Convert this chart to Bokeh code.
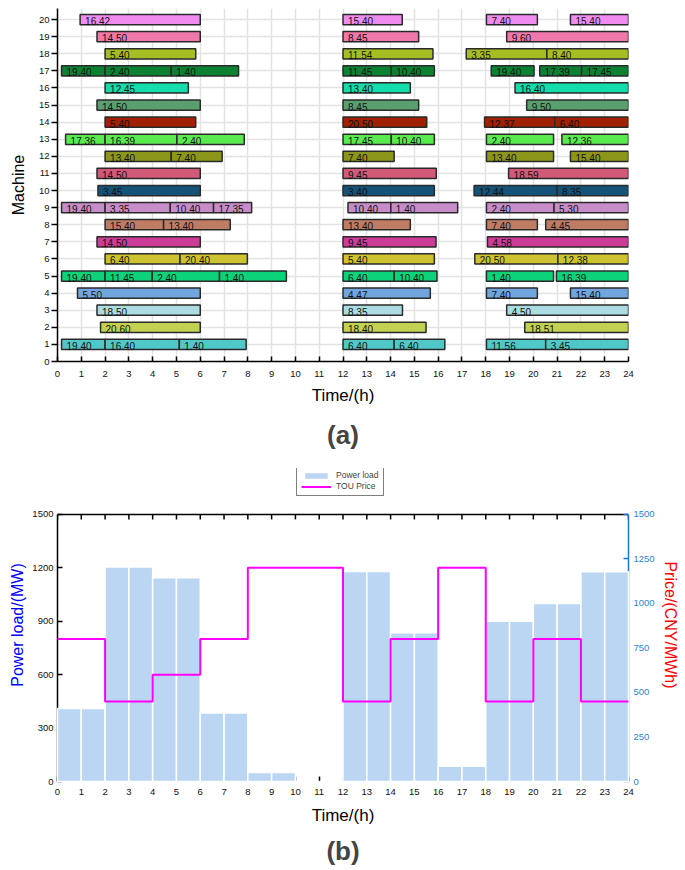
from bokeh.plotting import figure
from bokeh.models import (ColumnDataSource, Range1d, LinearAxis, FixedTicker, Title,
                          Legend, LegendItem)
from bokeh.layouts import column
from bokeh.embed import file_html
from bokeh.resources import INLINE
from bokeh.core.properties import value

FONT = "Liberation Sans"

# ---------------- (a) Gantt data ----------------
machine_ids = list(range(1, 21))
machine_colors = ["#50C8C8", "#C3D150", "#AADCE2", "#70A5DE", "#0CD27A",
                  "#CDC230", "#CC3C98", "#BE7C64", "#C88CC8", "#155278",
                  "#D25A78", "#8C961A", "#5AEA50", "#A02000", "#5AA06E",
                  "#14DCAA", "#0A8232", "#A6BE23", "#F078AA", "#F08CF0"]

seg_machine = [1]*7 + [2]*3 + [3]*3 + [4]*4 + [5]*8 + [6]*5 + [7]*3 + [8]*5 + [9]*8 + [10]*4 \
    + [11]*3 + [12]*5 + [13]*7 + [14]*4 + [15]*3 + [16]*3 + [17]*8 + [18]*4 + [19]*3 + [20]*4
seg_start = [0.17, 2, 5.12, 12, 14.15, 18.03, 20.52,
             1.81, 12, 19.64,
             1.66, 12, 18.88,
             0.84, 12, 18.03, 21.56,
             0.17, 2, 3.98, 6.81, 12, 14.15, 18.03, 20.97,
             2, 5.15, 12, 17.54, 21.03,
             1.66, 12, 18.07,
             2, 4.46, 12, 18.03, 20.52,
             0.17, 2, 4.74, 6.56, 12.21, 14.01, 18.03, 20.87,
             1.7, 12, 17.51, 20.99,
             1.66, 12, 18.96,
             2, 4.78, 12, 18.03, 21.56,
             0.34, 2, 5.02, 12, 14.03, 18.03, 21.2,
             2, 12, 17.95, 20.9,
             1.66, 12, 19.72,
             2, 12, 19.23,
             0.17, 2, 4.78, 12, 14.03, 18.23, 20.27, 22.03,
             2, 12, 17.18, 20.57,
             1.66, 12, 18.88,
             0.95, 12, 18.03, 21.56]
seg_end = [2, 5.12, 7.93, 14.15, 16.28, 20.52, 24,
           6, 15.49, 24,
           6, 14.5, 24,
           6, 15.67, 20.17, 24,
           2, 3.98, 6.81, 9.62, 14.15, 15.95, 20.85, 24,
           5.15, 7.98, 15.84, 21.03, 24,
           6, 15.91, 24,
           4.46, 7.26, 14.83, 20.17, 24,
           2, 4.74, 6.56, 8.16, 14.01, 16.82, 20.87, 24,
           6, 15.84, 20.99, 24,
           6, 15.92, 24,
           4.78, 6.92, 14.15, 20.85, 24,
           2, 5.02, 7.85, 14.03, 15.84, 20.85, 24,
           5.81, 15.52, 20.9, 24,
           6, 15.18, 24,
           5.5, 14.83, 24,
           2, 4.78, 7.61, 14.03, 15.84, 20.03, 22.03, 24,
           5.81, 15.78, 20.57, 24,
           6, 15.18, 24,
           6, 14.49, 20.17, 24]
seg_label = ["19.40", "16.40", "1.40", "6.40", "6.40", "11.56", "3.45",
             "20.60", "18.40", "18.51",
             "18.50", "8.35", "4.50",
             "5.50", "4.47", "7.40", "15.40",
             "19.40", "11.45", "2.40", "1.40", "6.40", "10.40", "1.40", "16.39",
             "6.40", "20.40", "5.40", "20.50", "12.38",
             "14.50", "9.45", "4.58",
             "15.40", "13.40", "13.40", "7.40", "4.45",
             "19.40", "3.35", "10.40", "17.35", "10.40", "1.40", "2.40", "5.30",
             "3.45", "3.40", "12.44", "8.35",
             "14.50", "9.45", "18.59",
             "13.40", "7.40", "7.40", "13.40", "15.40",
             "17.36", "16.39", "2.40", "17.45", "10.40", "2.40", "12.36",
             "5.40", "20.50", "12.37", "6.40",
             "14.50", "8.45", "9.50",
             "12.45", "13.40", "16.40",
             "19.40", "2.40", "1.40", "11.45", "10.40", "19.40", "17.39", "17.45",
             "5.40", "11.54", "3.35", "8.40",
             "14.50", "8.45", "9.60",
             "16.42", "15.40", "7.40", "15.40"]

hour_ticks = list(range(0, 25))
machine_ticks = list(range(0, 21))

# ---------------- (b) load / price data ----------------
load_hours = list(range(0, 24))
power_load = [410, 410, 1205, 1205, 1145, 1145, 385, 385, 50, 50, 0, 0,
              1180, 1180, 835, 835, 85, 85, 900, 900, 1000, 1000, 1178, 1178]
price_hours = [0, 2, 4, 6, 8, 12, 14, 16, 18, 20, 22, 24]
tou_price = [800, 450, 600, 800, 1200, 450, 800, 1200, 450, 800, 450, 450]
load_ticks = [0, 300, 600, 900, 1200, 1500]
price_ticks = [0, 250, 500, 750, 1000, 1250, 1500]
axis_max = 1500

# ================= Figure (a) =================
pa = figure(frame_width=571, frame_height=353, output_backend="svg", toolbar_location=None,
            x_range=Range1d(0, 24), y_range=Range1d(0, 20.65),
            min_border_left=57, min_border_right=49, min_border_top=8, min_border_bottom=104)
pa.outline_line_color = None
pa.background_fill_color = "white"

src = ColumnDataSource(dict(
    m=seg_machine, s=seg_start, e=seg_end, lab=seg_label,
    c=[machine_colors[m - 1] for m in seg_machine]))
pa.hbar(y="m", left="s", right="e", height=0.6, source=src, fill_color="c",
        line_color="#2a2a2a", line_width=1.5)
pa.text(x="s", y="m", text="lab", source=src, x_offset=5, y_offset=1.5,
        text_font=value(FONT), text_font_size="10px", text_baseline="middle",
        text_align="left", text_color="#111111")

for g in (pa.xgrid[0], pa.ygrid[0]):
    g.grid_line_color = "#E3E3E3"
    g.grid_line_width = 1.5
pa.xaxis.ticker = FixedTicker(ticks=hour_ticks)
pa.yaxis.ticker = FixedTicker(ticks=machine_ticks)
pa.xgrid.ticker = FixedTicker(ticks=hour_ticks)
pa.ygrid.ticker = FixedTicker(ticks=machine_ticks)

xa = pa.xaxis[0]
xa.axis_label = "Time/(h)"
xa.major_tick_in = 5
xa.major_tick_out = 0
xa.minor_tick_line_color = None
xa.major_label_standoff = 9
xa.axis_label_standoff = 6

ya = pa.yaxis[0]
ya.axis_label = "Machine"
ya.major_tick_in = 0
ya.major_tick_out = 6
ya.minor_tick_line_color = None
ya.major_label_standoff = 2
ya.axis_label_standoff = 9

for ax in (xa, ya):
    ax.axis_line_color = "black"
    ax.axis_line_width = 1.5
    ax.major_tick_line_color = "black"
    ax.major_tick_line_width = 1.5
    ax.major_label_text_font = FONT
    ax.major_label_text_font_size = "9.5px"
    ax.major_label_text_color = "#111111"
    ax.axis_label_text_font = FONT
    ax.axis_label_text_font_style = "normal"
    ax.axis_label_text_color = "black"
xa.axis_label_text_font_size = "17px"
ya.axis_label_text_font_size = "16px"

pa.add_layout(Title(text="(a)", align="center", text_font=FONT, text_font_size="26px",
                    text_font_style="bold", standoff=20), "below")

# ================= Figure (b) =================
# frame extends above the 1500 limit to hold the legend (as in the original layout)
pb = figure(frame_width=571, frame_height=313, output_backend="svg", toolbar_location=None,
            x_range=Range1d(0, 24), y_range=Range1d(0, 1758),
            min_border_left=57, min_border_right=49, min_border_top=3, min_border_bottom=85)
pb.outline_line_color = None
pb.xgrid.visible = False
pb.ygrid.visible = False
pb.extra_y_ranges = {"price": Range1d(0, 1758)}

# top box line and inward top ticks at the 1500 limit
pb.line(x=[hour_ticks[0], hour_ticks[-1]], y=[axis_max, axis_max],
        line_color="black", line_width=1.5)
pb.multi_line(xs=[[h, h] for h in hour_ticks],
              ys=[[axis_max, axis_max - 28] for h in hour_ticks],
              line_color="black", line_width=1.5)

bars = pb.vbar(x=[h + 0.5 for h in load_hours], top=power_load, width=1, bottom=0,
               fill_color="#BBD6F2", line_color="white", line_width=1.5)
bars.level = "annotation"
steps = pb.step(x=price_hours, y=tou_price, mode="after", line_color="#FF00FF",
                line_width=2, y_range_name="price")
steps.level = "annotation"

bxa = pb.xaxis[0]
bxa.ticker = FixedTicker(ticks=hour_ticks)
bxa.axis_label = "Time/(h)"
bxa.axis_line_color = None
bxa.major_tick_in = 5
bxa.major_tick_out = 0
bxa.major_label_standoff = 7
bxa.axis_label_standoff = 8

bya = pb.yaxis[0]
bya.ticker = FixedTicker(ticks=load_ticks)
bya.bounds = (0, axis_max)
bya.axis_label = "Power load/(MW)"
bya.axis_label_text_color = "#0000FF"
bya.major_tick_in = 5
bya.major_tick_out = 0
bya.major_label_standoff = 4
bya.axis_label_standoff = 3

right_axis = LinearAxis(y_range_name="price", ticker=FixedTicker(ticks=price_ticks),
                        axis_label="Price/(CNY/MWh)", bounds=(0, axis_max))
right_axis.axis_label_text_color = "#FF0000"
right_axis.axis_line_color = "#1E78C8"
right_axis.major_tick_line_color = "#1E78C8"
right_axis.major_label_text_color = "#2A86CC"
right_axis.major_tick_in = 5
right_axis.major_tick_out = 0
right_axis.major_label_standoff = 5
right_axis.axis_label_standoff = 4
pb.add_layout(right_axis, "right")

for ax in (bxa, bya, right_axis):
    ax.minor_tick_line_color = None
    ax.major_tick_line_width = 1.5
    ax.axis_line_width = 1.5
    ax.major_label_text_font = FONT
    ax.major_label_text_font_size = "9.5px"
    ax.axis_label_text_font = FONT
    ax.axis_label_text_font_style = "normal"
for ax in (bxa, bya):
    ax.major_tick_line_color = "black"
    ax.major_label_text_color = "#111111"
bya.axis_line_color = "black"
bxa.axis_label_text_color = "black"
bxa.axis_label_text_font_size = "17px"
bya.axis_label_text_font_size = "16px"
right_axis.axis_label_text_font_size = "16px"

legend = Legend(items=[LegendItem(label="Power load", renderers=[bars]),
                       LegendItem(label="TOU Price", renderers=[steps])],
                location=(239, 285), orientation="vertical",
                label_text_font=FONT, label_text_font_size="8.5px",
                glyph_width=30, glyph_height=9, label_height=9, label_standoff=5,
                padding=4, spacing=1, margin=0,
                border_line_color="black", border_line_width=1,
                background_fill_color="white", background_fill_alpha=1)
pb.add_layout(legend, "center")

pb.add_layout(Title(text="(b)", align="center", text_font=FONT, text_font_size="26px",
                    text_font_style="bold", standoff=12), "below")

layout = column(pa, pb, spacing=0)
open("out.html", "w").write(file_html(layout, INLINE))
